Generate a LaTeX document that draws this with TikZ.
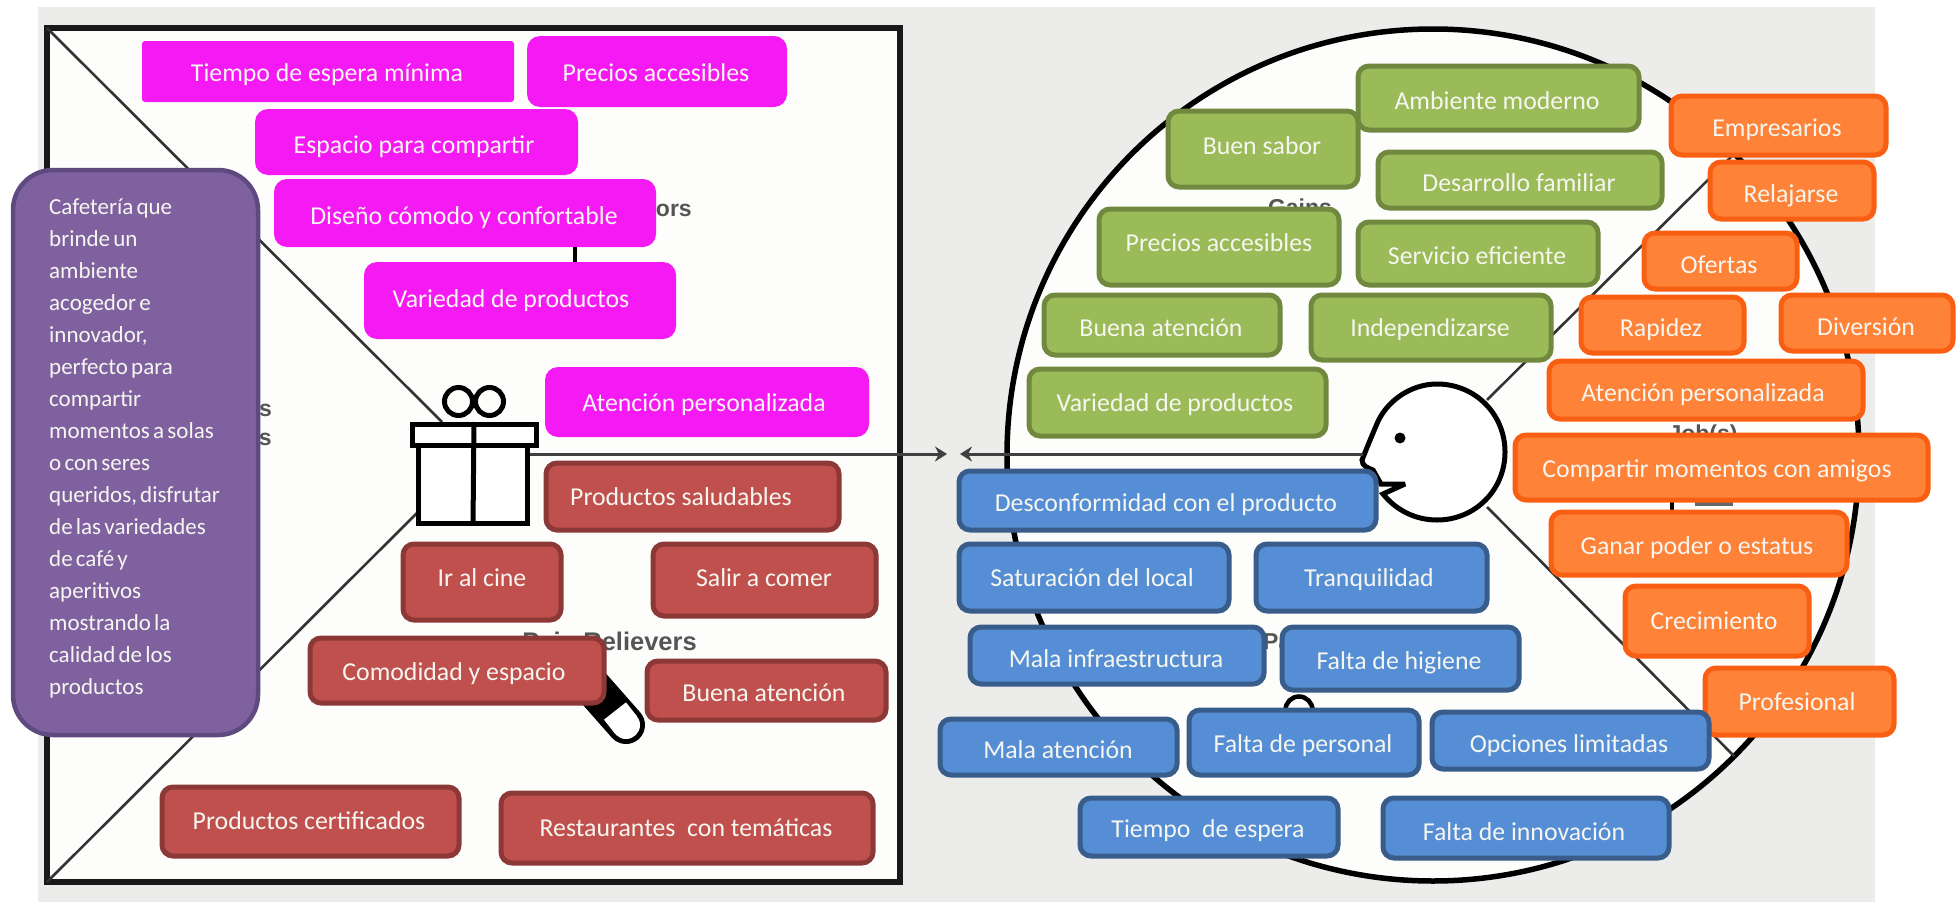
\documentclass[tikz,border=0pt]{standalone}
\usepackage{fontspec}
\setmainfont{Carlito}
\newfontfamily\lblfont{Liberation Sans}
\definecolor{panel}{HTML}{ECECEA}
\definecolor{paper}{HTML}{FDFDFB}
\definecolor{magentabox}{HTML}{F519F3}
\definecolor{redbox}{HTML}{C0504D}
\definecolor{redline}{HTML}{8C3836}
\definecolor{greenbox}{HTML}{9BBB59}
\definecolor{greenline}{HTML}{71893F}
\definecolor{bluebox}{HTML}{558ED5}
\definecolor{blueline}{HTML}{385D8A}
\definecolor{orangebox}{HTML}{FE8238}
\definecolor{orangeline}{HTML}{F95F12}
\definecolor{purplebox}{HTML}{8061A0}
\definecolor{purpleline}{HTML}{5F4A80}
\definecolor{boxtext}{HTML}{F6F6F0}
\definecolor{hidden}{HTML}{555555}
\tikzset{
  basebox/.style={rectangle,inner sep=0pt,outer sep=0pt,text=boxtext,font=\fontsize{25.8}{30}\selectfont},
  magbox/.style={basebox,fill=magentabox,rounded corners=13pt},
  magsharp/.style={basebox,fill=magentabox,rounded corners=3pt},
  redb/.style={basebox,fill=redbox,draw=redline,line width=5pt,rounded corners=11pt},
  greenb/.style={basebox,fill=greenbox,draw=greenline,line width=5pt,rounded corners=11pt},
  blueb/.style={basebox,fill=bluebox,draw=blueline,line width=5pt,rounded corners=11pt},
  orangeb/.style={basebox,fill=orangebox,draw=orangeline,line width=5pt,rounded corners=11pt},
  hiddenlabel/.style={font=\lblfont\bfseries\fontsize{23}{26}\selectfont,text=hidden,inner sep=0pt},
  thinline/.style={draw=black!80,line width=2.6pt},
  iconline/.style={draw=black,line width=5pt},
  flow/.style={draw=black!75,line width=3pt,-{Stealth[length=12pt,width=15pt]}},
}
\usetikzlibrary{arrows.meta}
% style, left, top, right, bottom, text x, text y, name, text
\newcommand{\bx}[9]{%
  \pgfmathsetmacro{\bxcx}{(#2+#4)/2}%
  \pgfmathsetmacro{\bxcy}{(#3+#5)/2}%
  \pgfmathsetmacro{\bxw}{#4-#2}%
  \pgfmathsetmacro{\bxh}{#5-#3}%
  \pgfmathsetmacro{\bxdx}{2*(#6-\bxcx)}%
  \pgfmathsetmacro{\bxdy}{\bxcy-#7-8}%
  \node[#1,minimum width=\bxw pt,minimum height=\bxh pt] (#8) at (\bxcx,\bxcy)
    {\smash{\raisebox{\bxdy pt}{\makebox[0pt]{\hspace{\bxdx pt}#9}}}};%
}
\begin{document}
\begin{tikzpicture}[x=1pt,y=-1pt]
\useasboundingbox (0,0) rectangle (1959,902);
\fill[white] (0,0) rectangle (1959,902);
\fill[panel] (38,7) rectangle (1875,902);
% canvas
\node[draw=black!90,fill=paper,line width=6pt,minimum width=853pt,minimum height=854pt,inner sep=0pt,outer sep=0pt] (square) at (473.5,455) {};
\node[circle,draw=black,fill=paper,line width=5.5pt,minimum size=852pt,inner sep=0pt,outer sep=0pt] (profile) at (1433,455) {};
% diagonals of the square
\coordinate (sqTL) at (square.north west);
\coordinate (sqBL) at (square.south west);
\coordinate (giftTL) at (442,422);
\coordinate (giftBL) at (417,513);
\draw[thinline] (sqTL) -- (giftTL);
\draw[thinline] (sqBL) -- (giftBL);
% gift
\node[draw=black,fill=white,line width=5pt,minimum width=109pt,minimum height=78pt,inner sep=0pt] (giftbody) at (473,484) {};
\node[draw=black,fill=white,line width=5pt,minimum width=124pt,minimum height=21pt,inner sep=0pt] (giftlid) at (474,435) {};
\draw[iconline] (giftlid.north) -- (giftbody.south);
\node[circle,draw=black,line width=5pt,minimum size=28pt,inner sep=0pt] (bowL) at (458.5,401.5) {};
\node[circle,draw=black,line width=5pt,minimum size=28pt,inner sep=0pt] (bowR) at (489.5,401.5) {};
% partly covered labels and icons
\node[hiddenlabel,anchor=east] (lblGC) at (692,208) {Gain Creators};
\node[hiddenlabel,anchor=east,font=\lblfont\bfseries\fontsize{25.5}{28}\selectfont] (lblPR) at (697,641) {Pain Relievers};
\node[hiddenlabel] (lblGains) at (1300,207) {Gains};
\node[hiddenlabel] (lblJob) at (1703,436) {Job(s)};
\node[hiddenlabel,anchor=west] (lblPains) at (1263,641) {Pains};
\node[hiddenlabel,anchor=east] (lblP1) at (272,408) {Products};
\node[hiddenlabel,anchor=east] (lblP2) at (272,437) {\& Services};
\coordinate (gcA) at (575,247); \coordinate (gcB) at (575,263);
\draw[draw=black,line width=4pt] (gcA) -- (gcB);
\coordinate (capA) at (574,666); \coordinate (capM) at (615,711); \coordinate (capB) at (626,725);
\draw[black,line width=38pt,line cap=round] (capA) -- (capB);
\draw[white,line width=28pt] (capM) -- (capB);
\fill[white] (capB) circle (14pt);
\node[circle,draw=black,line width=4.5pt,minimum size=27pt,inner sep=0pt] (painicon) at (1299,710) {};
\fill[black] (1670,502) rectangle (1674,510);
\fill[black!60] (1695,502) rectangle (1733,506);
% head
\draw[black,line width=5pt,fill=white,line join=miter,miter limit=3]
  (1437,384) .. controls (1475,384) and (1505,414) .. (1505,452)
  .. controls (1505,490) and (1475,520) .. (1437,520)
  .. controls (1415,520) and (1396,510) .. (1383,494)
  -- (1405,484) -- (1381,484) -- (1373,470)
  .. controls (1368,468) and (1362,466) .. (1362,460)
  .. controls (1366,450) and (1370,440) .. (1376,426)
  .. controls (1385,402) and (1410,384) .. (1437,384) -- cycle;
\fill[black] (1400,438) circle (5.5pt);
\coordinate (headUp) at (1487,400);
\coordinate (headDown) at (1487,507);
\coordinate (circUp) at (profile.45);
\coordinate (circDown) at (profile.-45);
\draw[thinline] (headUp) -- (circUp);
\draw[thinline] (headDown) -- (circDown);
% arrows between the two halves
\coordinate (meetL) at (947,454);
\coordinate (meetR) at (960,454);
\coordinate (giftR) at (530,454);
\coordinate (headL) at (1363,454);
\draw[flow] (giftR) -- (meetL);
\draw[flow] (headL) -- (meetR);
% magenta
\bx{magsharp}{142}{41}{514}{102}{327}{73}{m1}{Tiempo de espera mínima}
\bx{magbox}{527}{36}{787}{107}{656}{73}{m2}{Precios accesibles}
\bx{magbox}{255}{109}{578}{175}{414}{145}{m3}{Espacio para compartir}
\bx{magbox}{274}{179}{656}{247}{464}{216}{m4}{Diseño cómodo y confortable}
\bx{magbox}{364}{262}{676}{339}{511}{299}{m5}{Variedad de productos}
\bx{magbox}{545}{367}{869}{437}{704}{403}{m6}{Atención personalizada}
% red
\bx{redb}{546}{463}{839}{530}{681}{497}{r1}{Productos saludables}
\bx{redb}{403}{544}{561}{620}{482}{578}{r2}{Ir al cine}
\bx{redb}{653}{544}{876}{616}{764}{578}{r3}{Salir a comer}
\bx{redb}{310}{638}{604}{703}{454}{672}{r4}{Comodidad y espacio}
\bx{redb}{647}{661}{886}{720}{764}{693}{r5}{Buena atención}
\bx{redb}{162}{787}{459}{856}{309}{821}{r6}{Productos certificados}
\bx{redb}{501}{793}{873}{863}{686}{828}{r7}{Restaurantes\ \ con temáticas}
% green
\bx{greenb}{1358}{66}{1639}{130}{1497}{101}{g1}{Ambiente moderno}
\bx{greenb}{1168}{111}{1358}{187}{1262}{146}{g2}{Buen sabor}
\bx{greenb}{1378}{152}{1662}{208}{1519}{183}{g3}{Desarrollo familiar}
\bx{greenb}{1099}{209}{1339}{285}{1219}{243}{g4}{Precios accesibles}
\bx{greenb}{1358}{222}{1598}{285}{1477}{256}{g5}{Servicio eficiente}
\bx{greenb}{1044}{295}{1280}{355}{1161}{328}{g6}{Buena atención}
\bx{greenb}{1311}{295}{1551}{360}{1430}{328}{g7}{Independizarse}
\bx{greenb}{1029}{369}{1326}{436}{1175}{403}{g8}{Variedad de productos}
% blue
\bx{blueb}{959}{471}{1376}{530}{1166}{503}{b1}{Desconformidad con el producto}
\bx{blueb}{959}{544}{1229}{611}{1092}{578}{b2}{Saturación del local}
\bx{blueb}{1256}{544}{1487}{611}{1369}{578}{b3}{Tranquilidad}
\bx{blueb}{970}{627}{1264}{684}{1116}{659}{b4}{Mala infraestructura}
\bx{blueb}{1282}{627}{1519}{690}{1399}{661}{b5}{Falta de higiene}
\bx{blueb}{940}{719}{1177}{775}{1058}{750}{b6}{Mala atención}
\bx{blueb}{1189}{710}{1419}{775}{1303}{744}{b7}{Falta de personal}
% orange
\bx{orangeb}{1671}{96}{1886}{155}{1777}{128}{o1}{Empresarios}
\bx{orangeb}{1710}{162}{1874}{219}{1791}{194}{o2}{Relajarse}
\bx{orangeb}{1644}{233}{1797}{289}{1719}{265}{o3}{Ofertas}
\bx{orangeb}{1581}{297}{1744}{353}{1661}{328}{o4}{Rapidez}
\bx{orangeb}{1781}{295}{1953}{351}{1866}{327}{o5}{Diversión}
\bx{orangeb}{1549}{361}{1863}{419}{1703}{393}{o6}{Atención personalizada}
\bx{orangeb}{1515}{435}{1928}{500}{1717}{469}{o7}{Compartir momentos con amigos}
\bx{orangeb}{1551}{512}{1847}{575}{1697}{546}{o8}{Ganar poder o estatus}
\bx{orangeb}{1625}{586}{1809}{656}{1714}{621}{o9}{Crecimiento}
\bx{orangeb}{1705}{668}{1894}{735}{1797}{702}{o10}{Profesional}
% blue in front of orange
\bx{blueb}{1432}{712}{1709}{769}{1569}{744}{b8}{Opciones limitadas}
\bx{blueb}{1080}{798}{1338}{856}{1208}{829}{b9}{Tiempo\ \ de espera}
\bx{blueb}{1383}{798}{1669}{858}{1524}{832}{b10}{Falta de innovación}
% value proposition
\node[draw=purpleline,fill=purplebox,line width=4.5pt,rounded corners=40pt,minimum width=245pt,minimum height=565pt,inner sep=0pt,outer sep=0pt] (vp) at (135.5,452.5) {};
\node[anchor=north west,text=boxtext,inner sep=0pt,align=left,font=\fontsize{23}{32}\selectfont,text width=205pt] (vptext) at (49,199)
  {\spaceskip=0.14em Cafetería que\\brinde un\\ambiente\\acogedor e\\innovador,\\perfecto para\\compartir\\momentos a solas\\o con seres\\queridos, disfrutar\\de las variedades\\de café y\\aperitivos\\mostrando la\\calidad de los\\productos};
\end{tikzpicture}
\end{document}
